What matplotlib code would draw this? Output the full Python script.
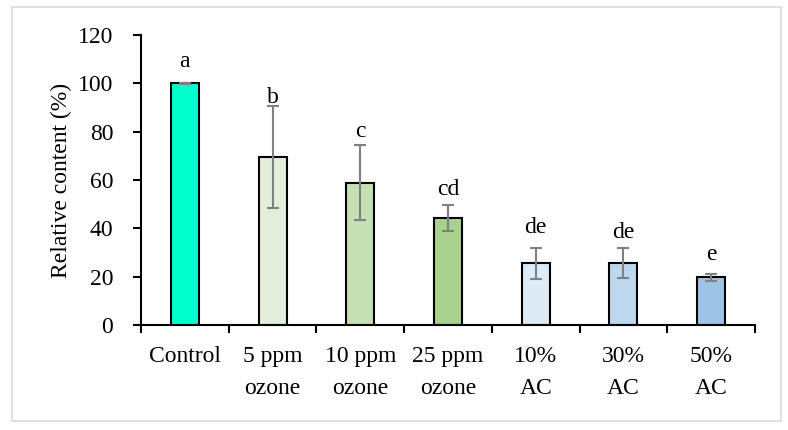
import matplotlib.pyplot as plt
import numpy as np
from matplotlib.patches import Rectangle

# values
groups = ["Control", "5 ppm\nozone", "10 ppm\nozone", "25 ppm\nozone",
          "10%\nAC", "30%\nAC", "50%\nAC"]
content = [100.0, 69.5, 58.8, 44.2, 25.5, 25.5, 19.8]
err = [0.3, 21.0, 15.5, 5.5, 6.5, 6.2, 1.4]
letters = ["a", "b", "c", "cd", "de", "de", "e"]
letter_y = [106.8, 91.8, 77.7, 53.7, 37.9, 36.2, 26.7]  # baseline of letters
colors = ["#00FFCC", "#E2EFDA", "#C6E0B4", "#A9D18E",
          "#DDEBF7", "#BDD7EE", "#9DC3E6"]

plt.rcParams["font.family"] = ["Liberation Serif", "DejaVu Serif"]
fs = 17

fig = plt.figure(figsize=(7.88, 4.30), dpi=100)
ax = fig.add_axes([141 / 788, 1 - 325 / 430, (755 - 141) / 788, 290 / 430])

# light grey frame around the whole picture
fig.patches.append(Rectangle((12 / 788, 1 - 421 / 430), 769 / 788, 414 / 430,
                             transform=fig.transFigure, fill=False,
                             edgecolor="#d9d9d9", linewidth=1.2))

x = np.arange(len(groups))
ax.bar(x, content, width=0.32, color=colors, edgecolor="black", linewidth=1.5,
       zorder=2)
ax.errorbar(x, content, yerr=err, fmt="none", ecolor="#808080",
            elinewidth=1.5, capsize=4, capthick=1.5, zorder=3)

for xi, ly, lab in zip(x, letter_y, letters):
    ax.text(xi, ly, lab, ha="center", va="baseline", fontsize=fs)

ax.set_xlim(-0.5, len(groups) - 0.5)
ax.set_ylim(0, 120)
ax.set_yticks(np.arange(0, 121, 20))
ax.set_xticks(x)
ax.set_xticklabels(groups, fontsize=fs, linespacing=1.72)
ax.set_xticks(np.arange(-0.5, len(groups)), minor=True)
ax.tick_params(axis="x", which="major", length=0, pad=15)
ax.tick_params(axis="x", which="minor", length=6, width=1.5, direction="out")
ax.tick_params(axis="y", length=6, width=1.5, labelsize=fs, pad=14)
ax.set_ylabel("Relative content (%)", fontsize=fs, labelpad=4)

for s in ["top", "right"]:
    ax.spines[s].set_visible(False)
for s in ["left", "bottom"]:
    ax.spines[s].set_linewidth(1.5)

fig.savefig("out.png", dpi=100)
